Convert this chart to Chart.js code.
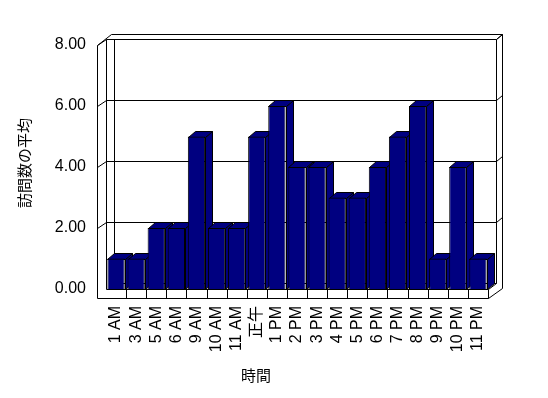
<!DOCTYPE html>
<html>
<head>
<meta charset="utf-8">
<script src="https://cdn.jsdelivr.net/npm/chart.js"></script>
<style>body{margin:0;background:#fff}</style>
</head>
<body>
<canvas id="graficoHoras" width="548" height="398"></canvas>
<script>
var horas = ['1 AM','3 AM','5 AM','6 AM','9 AM','10 AM','11 AM','正午','1 PM','2 PM','3 PM','4 PM','5 PM','6 PM','7 PM','8 PM','9 PM','10 PM','11 PM'];
var media = [1,1,2,2,5,2,2,5,6,4,4,3,3,4,5,6,1,4,1];
var ticksY = [0,2,4,6,8];
var tituloY = '訪問数の平均';
var tituloX = '時間';

var azul = '#000080';
var prof = 8, sobe = 6; // profundidade do efeito 3d
var fonte = "'Liberation Sans', 'Noto Sans CJK JP', sans-serif";

function px(v) { return Math.round(v) + 0.5; }

function linha(c, pts) {
  c.beginPath();
  c.moveTo(px(pts[0][0]), px(pts[0][1]));
  for (var i = 1; i < pts.length; i++) c.lineTo(px(pts[i][0]), px(pts[i][1]));
  c.stroke();
}

var caixa3d = {
  id: 'caixa3d',
  beforeDatasetsDraw: function(chart) {
    var c = chart.ctx, a = chart.chartArea, sy = chart.scales.y;
    var L = a.left, R = a.right, T = a.top, B = a.bottom;
    c.save();
    c.strokeStyle = '#000';
    c.lineWidth = 1;
    // contorno externo
    linha(c, [[L-9, B+9], [L-9, T], [L+5, T-11], [R+14, T-11], [R+14, B-1], [R, B+9], [L-9, B+9]]);
    // paredes
    linha(c, [[L, B], [L, T-6]]);
    linha(c, [[L+prof, B-sobe], [L+prof, T-sobe]]);
    linha(c, [[R+prof, B-sobe], [R+prof, T-sobe], [R+14, T-11]]);
    // chao
    linha(c, [[L, B], [R, B], [R+prof, B-sobe]]);
    linha(c, [[L+prof, B-sobe], [R+prof, B-sobe]]);
    var passo = (R - L) / horas.length;
    for (var i = 1; i <= horas.length; i++) {
      linha(c, [[L + i*passo, B], [L + i*passo, B+9]]);
    }
    // linhas de grade na parede do fundo
    ticksY.forEach(function(v) {
      if (v === 0) return;
      var yf = sy.getPixelForValue(v), yb = yf - sobe;
      linha(c, [[L-9, yf], [L, yb], [R+prof, yb], [R+14, yb-5]]);
    });
    // lados e topos das barras
    var barras = chart.getDatasetMeta(0).data;
    c.fillStyle = azul;
    barras.forEach(function(b) {
      var esq = b.x - b.width/2, dir = b.x + b.width/2, topo = b.y, base = b.base;
      c.beginPath();
      c.moveTo(px(dir), px(topo));
      c.lineTo(px(dir+7), px(topo-sobe));
      c.lineTo(px(dir+7), px(base-sobe));
      c.lineTo(px(dir), px(base));
      c.closePath();
      c.fill(); c.stroke();
      c.beginPath();
      c.moveTo(px(esq), px(topo));
      c.lineTo(px(esq+7), px(topo-sobe));
      c.lineTo(px(dir+7), px(topo-sobe));
      c.lineTo(px(dir), px(topo));
      c.closePath();
      c.fill(); c.stroke();
    });
    c.restore();
  },
  afterDraw: function(chart) {
    var c = chart.ctx;
    c.save();
    c.fillStyle = '#000';
    c.font = "15px 'Noto Sans CJK JP', sans-serif";
    c.textAlign = 'center';
    c.textBaseline = 'middle';
    c.fillText(tituloX, 256, 375);
    c.translate(24, 163);
    c.rotate(-Math.PI/2);
    c.fillText(tituloY, 0, 0);
    c.restore();
  }
};

const ctx = document.getElementById('graficoHoras');

new Chart(ctx, {
  type: 'bar',
  data: {
    labels: horas,
    datasets: [{
      label: tituloY,
      data: media,
      backgroundColor: azul,
      borderColor: '#000',
      borderWidth: 1,
      categoryPercentage: 1,
      barPercentage: 0.86
    }]
  },
  options: {
    responsive: false,
    animation: false,
    layout: { padding: { left: 0, top: 45, right: 60, bottom: 0 } },
    plugins: { legend: { display: false }, tooltip: { enabled: false } },
    scales: {
      x: {
        grid: { display: false, drawTicks: false },
        border: { display: false },
        afterFit: function(s) { s.height = 109; },
        ticks: {
          autoSkip: false,
          maxRotation: 90,
          minRotation: 90,
          padding: 17,
          color: '#000',
          font: { family: fonte, size: 16 }
        }
      },
      y: {
        min: 0,
        max: 8,
        grid: { display: false, drawTicks: false },
        border: { display: false },
        afterFit: function(s) { s.width = 106; },
        afterBuildTicks: function(s) { s.ticks = ticksY.map(function(v) { return { value: v }; }); },
        ticks: {
          padding: 20,
          color: '#000',
          font: { family: fonte, size: 16 },
          callback: function(v) { return Number(v).toFixed(2); }
        }
      }
    }
  },
  plugins: [caixa3d]
});
</script>
</body>
</html>
